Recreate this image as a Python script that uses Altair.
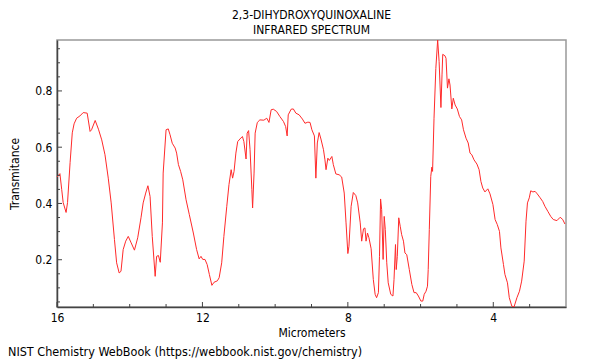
import altair as alt
import pandas as pd

# ---- data ----
wavelength = [
    16.00, 15.92, 15.87, 15.83, 15.75, 15.71, 15.64, 15.58, 15.53, 15.46,
    15.37, 15.28, 15.17, 15.09, 15.05, 14.95, 14.86, 14.77, 14.68, 14.59,
    14.51, 14.42, 14.36, 14.29, 14.24, 14.18, 14.11, 14.04, 13.96, 13.87,
    13.78, 13.69, 13.63, 13.56, 13.50, 13.44, 13.38, 13.30, 13.26, 13.21,
    13.16, 13.10, 13.08, 13.00, 12.94, 12.89, 12.83, 12.75, 12.71, 12.66,
    12.60, 12.54, 12.45, 12.36, 12.25, 12.16, 12.09, 12.04, 11.99, 11.93,
    11.87, 11.81, 11.74, 11.68, 11.59, 11.54, 11.47, 11.41, 11.33, 11.27,
    11.21, 11.17, 11.13, 11.08, 11.03, 10.97, 10.90, 10.86, 10.80, 10.77,
    10.73, 10.69, 10.64, 10.62, 10.58, 10.55, 10.49, 10.42, 10.31, 10.23,
    10.17, 10.11, 10.05, 9.96, 9.87, 9.77, 9.71, 9.67, 9.64, 9.56,
    9.50, 9.43, 9.34, 9.25, 9.18, 9.10, 9.04, 8.99, 8.92, 8.88,
    8.84, 8.79, 8.74, 8.67, 8.63, 8.60, 8.55, 8.51, 8.44, 8.40,
    8.33, 8.24, 8.17, 8.10, 8.05, 8.00, 7.97, 7.91, 7.85, 7.78,
    7.73, 7.66, 7.62, 7.57, 7.53, 7.50, 7.46, 7.42, 7.36, 7.30,
    7.25, 7.21, 7.16, 7.13, 7.10, 7.07, 7.03, 7.00, 6.97, 6.93,
    6.89, 6.82, 6.76, 6.73, 6.69, 6.67, 6.64, 6.60, 6.56, 6.52,
    6.47, 6.43, 6.38, 6.31, 6.24, 6.18, 6.12, 6.06, 5.99, 5.94,
    5.90, 5.85, 5.81, 5.79, 5.76, 5.72, 5.69, 5.67, 5.63, 5.58,
    5.53, 5.49, 5.44, 5.41, 5.39, 5.33, 5.30, 5.26, 5.22, 5.19,
    5.14, 5.10, 5.05, 4.99, 4.93, 4.87, 4.82, 4.75, 4.69, 4.64,
    4.59, 4.53, 4.45, 4.39, 4.34, 4.29, 4.23, 4.15, 4.09, 4.01,
    3.95, 3.89, 3.83, 3.79, 3.72, 3.68, 3.61, 3.56, 3.49, 3.43,
    3.35, 3.28, 3.22, 3.15, 3.10, 3.06, 3.01, 2.97, 2.91, 2.85,
    2.79, 2.71, 2.64, 2.58, 2.50, 2.42, 2.35, 2.25, 2.16, 2.09,
    2.03,
]
transmittance = [
    0.494, 0.506, 0.449, 0.403, 0.368, 0.403, 0.545, 0.651, 0.683, 0.703,
    0.711, 0.723, 0.721, 0.656, 0.662, 0.695, 0.664, 0.626, 0.573, 0.490,
    0.402, 0.272, 0.189, 0.153, 0.159, 0.236, 0.266, 0.283, 0.260, 0.234,
    0.278, 0.349, 0.402, 0.437, 0.463, 0.425, 0.283, 0.141, 0.212, 0.215,
    0.191, 0.331, 0.508, 0.662, 0.665, 0.644, 0.614, 0.597, 0.579, 0.538,
    0.514, 0.484, 0.413, 0.360, 0.295, 0.236, 0.203, 0.212, 0.201, 0.201,
    0.183, 0.148, 0.109, 0.120, 0.125, 0.136, 0.189, 0.283, 0.390, 0.467,
    0.520, 0.490, 0.514, 0.579, 0.620, 0.629, 0.638, 0.620, 0.558, 0.650,
    0.659, 0.591, 0.449, 0.384, 0.508, 0.650, 0.688, 0.697, 0.696, 0.703,
    0.688, 0.733, 0.735, 0.727, 0.709, 0.691, 0.673, 0.640, 0.715, 0.735,
    0.736, 0.721, 0.715, 0.700, 0.685, 0.689, 0.688, 0.662, 0.640, 0.490,
    0.615, 0.652, 0.629, 0.591, 0.555, 0.520, 0.561, 0.553, 0.567, 0.538,
    0.505, 0.502, 0.494, 0.437, 0.331, 0.222, 0.248, 0.390, 0.439, 0.428,
    0.402, 0.331, 0.266, 0.310, 0.313, 0.266, 0.295, 0.278, 0.239, 0.130,
    0.077, 0.065, 0.083, 0.212, 0.416, 0.378, 0.201, 0.354, 0.307, 0.189,
    0.118, 0.077, 0.071, 0.130, 0.254, 0.165, 0.212, 0.349, 0.319, 0.289,
    0.266, 0.224, 0.218, 0.165, 0.112, 0.083, 0.083, 0.071, 0.053, 0.053,
    0.077, 0.088, 0.106, 0.165, 0.307, 0.496, 0.529, 0.514, 0.703, 0.880,
    0.981, 0.904, 0.741, 0.857, 0.930, 0.925, 0.916, 0.810, 0.843, 0.821,
    0.736, 0.774, 0.750, 0.736, 0.709, 0.697, 0.662, 0.632, 0.615, 0.579,
    0.573, 0.555, 0.540, 0.520, 0.478, 0.455, 0.441, 0.452, 0.434, 0.396,
    0.343, 0.325, 0.301, 0.242, 0.183, 0.148, 0.118, 0.065, 0.035, 0.032,
    0.065, 0.088, 0.124, 0.195, 0.337, 0.402, 0.420, 0.445, 0.441, 0.443,
    0.434, 0.420, 0.407, 0.390, 0.372, 0.354, 0.343, 0.339, 0.351, 0.343,
    0.327,
]

x_major_ticks = [16, 12, 8, 4]
x_minor_ticks = [15, 14, 13, 11, 10, 9, 7, 6, 5, 3]
y_major_ticks = [0.2, 0.4, 0.6, 0.8]
y_minor_ticks = [0.05, 0.1, 0.15, 0.25, 0.3, 0.35, 0.45, 0.5, 0.55,
                 0.65, 0.7, 0.75, 0.85, 0.9, 0.95]

title_lines = ["2,3-DIHYDROXYQUINOXALINE", "INFRARED SPECTRUM"]
footer_text = ["NIST Chemistry WebBook (https://webbook.nist.gov/chemistry)"]
x_title = "Micrometers"
y_title = "Transmitance"

FONT = "DejaVu Sans Condensed"
W, H = 509, 267

df = pd.DataFrame({"um": wavelength, "T": transmittance})
df["i"] = range(len(df))

xscale = alt.Scale(domain=[16, 2], nice=False, zero=False)
yscale = alt.Scale(domain=[0.032, 0.981], nice=False, zero=False)

x_axis = alt.Axis(values=x_major_ticks, ticks=False, grid=False,
                  domainColor="#444", domainWidth=1.5,
                  labelFont=FONT, labelFontSize=12, labelColor="#000",
                  labelPadding=5, titleFont=FONT, titleFontSize=12,
                  titleFontWeight="normal", titleColor="#000",
                  titlePadding=4, labelFlush=False)
y_axis = alt.Axis(values=y_major_ticks, format=".1f",
                  ticks=False, grid=False, domainColor="#444",
                  domainWidth=1.5, labelFont=FONT, labelFontSize=12,
                  labelColor="#000", labelPadding=5, titleFont=FONT,
                  titleFontSize=12, titleFontWeight="normal",
                  titleColor="#000", titlePadding=13)

line = alt.Chart(df).mark_line(color="#ff2a2a", strokeWidth=1, clip=True).encode(
    x=alt.X("um:Q", scale=xscale, axis=x_axis, title=x_title),
    y=alt.Y("T:Q", scale=yscale, axis=y_axis, title=y_title),
    order="i:Q",
)


def xticks(vals, length):
    return alt.Chart(pd.DataFrame({"v": vals})).mark_rule(
        color="#444", strokeWidth=1).encode(
        x=alt.X("v:Q", scale=xscale, axis=x_axis, title=x_title),
        y=alt.value(H), y2=alt.value(H - length))


def yticks(vals, length):
    return alt.Chart(pd.DataFrame({"v": vals})).mark_rule(
        color="#444", strokeWidth=1).encode(
        y=alt.Y("v:Q", scale=yscale, axis=y_axis, title=y_title),
        x=alt.value(0), x2=alt.value(length))


title1 = alt.Chart(pd.DataFrame({"t": [title_lines[0]]})).mark_text(
    font=FONT, fontSize=12, color="#000", align="center", baseline="alphabetic"
).encode(text="t:N", x=alt.value(W / 2), y=alt.value(-21))
title2 = alt.Chart(pd.DataFrame({"t": [title_lines[1]]})).mark_text(
    font=FONT, fontSize=12, color="#000", align="center", baseline="alphabetic"
).encode(text="t:N", x=alt.value(W / 2), y=alt.value(-6))
footer = alt.Chart(pd.DataFrame({"t": footer_text})).mark_text(
    font=FONT, fontSize=12.5, color="#000", align="left", baseline="alphabetic"
).encode(text="t:N", x=alt.value(-49), y=alt.value(H + 49))

chart = alt.layer(
    line,
    xticks(x_major_ticks, 5), xticks(x_minor_ticks, 3),
    yticks(y_major_ticks, 5), yticks(y_minor_ticks, 3),
    title1, title2, footer,
).properties(
    width=W, height=H,
    autosize=alt.AutoSizeParams(type="none"),
    padding={"left": 49, "top": 32, "right": 26, "bottom": 52},
).configure_view(
    stroke="#999", strokeWidth=1.5
)

chart.save("out.html", embed_options={"renderer": "svg", "actions": False})
